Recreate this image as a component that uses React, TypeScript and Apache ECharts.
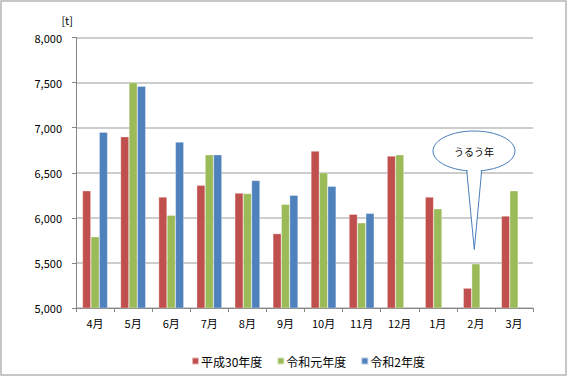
import React, { useEffect, useRef } from "react";
import * as echarts from "echarts";

const categories = ["4月", "5月", "6月", "7月", "8月", "9月", "10月", "11月", "12月", "1月", "2月", "3月"];
const seriesNames = ["平成30年度", "令和元年度", "令和2年度"];
const h30 = [6300, 6900, 6230, 6360, 6275, 5825, 6740, 6040, 6685, 6230, 5220, 6020];
const r1 = [5790, 7500, 6030, 6700, 6270, 6150, 6500, 5945, 6700, 6100, 5490, 6300];
const r2: (number | null)[] = [6950, 7460, 6840, 6700, 6415, 6250, 6350, 6050, null, null, null, null];
const colors = ["#c0504d", "#9bbb59", "#4f81bd"];
const calloutText = "うるう年";

const FONT = "'Noto Sans CJK JP', sans-serif";

export default function App() {
  const ref = useRef<HTMLDivElement>(null);
  useEffect(() => {
    const chart = echarts.init(ref.current!, null, { renderer: "svg" });
    const data = [h30, r1, r2];
    chart.setOption({
      animation: false,
      textStyle: { fontFamily: FONT },
      grid: { left: 76, right: 35, top: 37.5, bottom: 69, containLabel: false },
      legend: {
        data: seriesNames,
        left: 186,
        top: 350,
        icon: "rect",
        itemWidth: 7,
        itemHeight: 7,
        itemGap: 14,
        textStyle: { fontSize: 12, color: "#000", fontFamily: FONT, padding: [0, 0, 0, -3] },
      },
      xAxis: {
        type: "category",
        data: categories,
        axisLine: { lineStyle: { color: "#868686", width: 1 } },
        axisTick: { show: true, length: 4, lineStyle: { color: "#868686" } },
        axisLabel: { fontSize: 11, color: "#000", margin: 9, fontFamily: FONT },
      },
      yAxis: {
        type: "value",
        min: 5000,
        max: 8000,
        interval: 500,
        name: "[t]",
        nameLocation: "end",
        nameGap: 12,
        nameTextStyle: { fontSize: 11, color: "#000", align: "right", padding: [0, 3, 0, 0], fontFamily: FONT },
        axisLine: { show: true, lineStyle: { color: "#868686", width: 1 } },
        axisTick: { show: true, length: 4, lineStyle: { color: "#868686" } },
        axisLabel: {
          fontSize: 11,
          color: "#000",
          margin: 14,
          fontFamily: FONT,
          formatter: (v: number) => v.toLocaleString("en-US"),
        },
        splitLine: { lineStyle: { color: "#bdbdbd", width: 1.5 } },
      },
      series: seriesNames.map((name, i) => ({
        name,
        type: "bar",
        data: data[i],
        barGap: "0%",
        barCategoryGap: "34%",
        itemStyle: { color: colors[i], borderColor: "rgba(255,255,255,0.6)", borderWidth: 0.5 },
      })),
      graphic: [
        {
          type: "rect",
          shape: { x: 1, y: 1, width: 565, height: 374 },
          style: { fill: "none", stroke: "#b5b5b5", lineWidth: 1.5 },
          silent: true,
        },
        {
          type: "ellipse",
          shape: { cx: 474, cy: 151, rx: 41, ry: 20 },
          style: { fill: "#fff", stroke: "#4a7ebb", lineWidth: 1 },
          z: 100,
        },
        {
          type: "polygon",
          shape: { points: [[467.5, 168], [481, 168], [474.3, 249]] },
          style: { fill: "#fff", stroke: "none" },
          z: 101,
        },
        {
          type: "polyline",
          shape: { points: [[466.7, 170.5], [474.3, 249.5], [481.7, 170.5]] },
          style: { fill: "none", stroke: "#4a7ebb", lineWidth: 1 },
          z: 102,
        },
        {
          type: "text",
          x: 474,
          y: 151,
          style: {
            text: calloutText,
            fontSize: 10,
            fill: "#000",
            fontFamily: FONT,
            align: "center",
            verticalAlign: "middle",
          },
          z: 103,
        },
      ],
    });
    return () => chart.dispose();
  }, []);
  return (
    <div
      ref={ref}
      style={{ position: "absolute", left: 0, top: 0, width: 568, height: 377, background: "#fff" }}
    />
  );
}
